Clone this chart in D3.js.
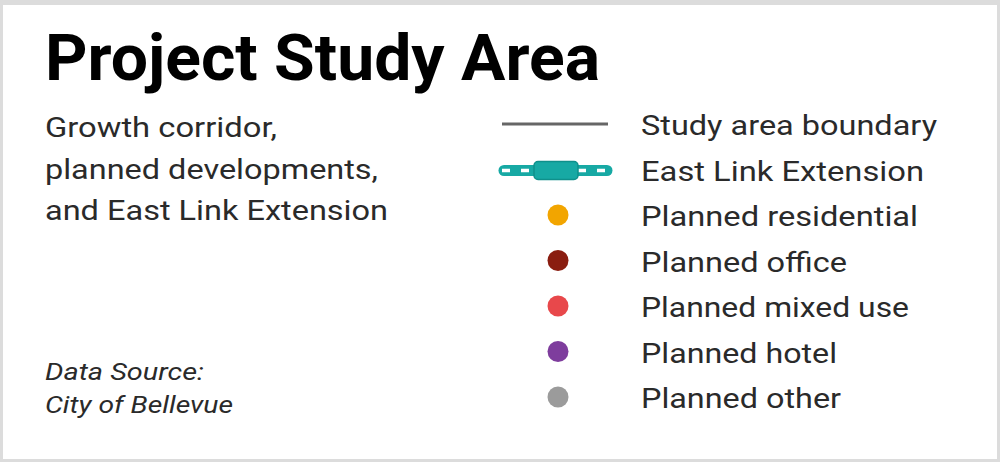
<!DOCTYPE html>
<html>
<head>
<meta charset="utf-8">
<script src="https://cdn.jsdelivr.net/npm/d3@7"></script>
<style>
  html, body { margin: 0; padding: 0; background: #fff; }
  svg { display: block; }
  text { font-family: Roboto, "Noto Sans", sans-serif; fill: #1a1a1a; }
</style>
</head>
<body>
<div id="chart"></div>
<script>
// legend content
var title = "Project Study Area";
var subtitleLines = ["Growth corridor,", "planned developments,", "and East Link Extension"];
var sourceLines = ["Data Source:", "City of Bellevue"];
var legendLabels = ["Study area boundary", "East Link Extension", "Planned residential",
  "Planned office", "Planned mixed use", "Planned hotel", "Planned other"];
var legendTypes = ["line", "rail", "dot", "dot", "dot", "dot", "dot"];
var legendColors = ["#666666", "#17a9a4", "#f2a500", "#8a1d10", "#e8484b", "#7e3d9d", "#9b9b9b"];

var W = 1000, H = 462;
var svg = d3.select("#chart").append("svg").attr("width", W).attr("height", H);

// frame
svg.append("rect").attr("x", 0).attr("y", 0).attr("width", W).attr("height", H).attr("fill", "#dcdcdc");
svg.append("rect").attr("x", 3).attr("y", 5).attr("width", W - 6).attr("height", H - 8).attr("fill", "#fff");

// squeeze text to a width so the narrow original face is matched
function fit(sel, w) {
  sel.attr("textLength", w).attr("lengthAdjust", "spacingAndGlyphs");
}

svg.append("text").attr("x", 45).attr("y", 80)
  .style("font-size", "64px").style("font-weight", 700).style("fill", "#000")
  .text(title).call(fit, 555);

var subW = [232, 333, 343];
svg.selectAll("text.sub").data(subtitleLines).enter().append("text")
  .attr("class", "sub").attr("x", 45).attr("y", function(d, i) { return 137 + i * 41.5; })
  .style("font-size", "27px").style("fill", "#2a2a2a")
  .text(function(d) { return d; })
  .each(function(d, i) { d3.select(this).call(fit, subW[i]); });

var srcW = [159, 188];
svg.selectAll("text.src").data(sourceLines).enter().append("text")
  .attr("class", "src").attr("x", 45).attr("y", function(d, i) { return 380 + i * 33; })
  .style("font-size", "23px").style("font-style", "italic").style("fill", "#2a2a2a")
  .text(function(d) { return d; })
  .each(function(d, i) { d3.select(this).call(fit, srcW[i]); });

// legend rows
var y = d3.scalePoint().domain(legendLabels).range([124, 397]);
var symX = 556;

var rows = svg.selectAll("g.row").data(legendLabels).enter().append("g")
  .attr("class", "row")
  .attr("transform", function(d) { return "translate(0," + y(d) + ")"; });

rows.each(function(d, i) {
  var g = d3.select(this), c = legendColors[i];
  if (legendTypes[i] === "line") {
    g.append("line").attr("x1", 502).attr("x2", 608).attr("y1", 0).attr("y2", 0)
      .attr("stroke", c).attr("stroke-width", 3);
  } else if (legendTypes[i] === "rail") {
    g.append("line").attr("x1", 504).attr("x2", 607).attr("y1", 1).attr("y2", 1)
      .attr("stroke", c).attr("stroke-width", 11).attr("stroke-linecap", "round");
    g.append("line").attr("x1", 502).attr("x2", 609).attr("y1", 1).attr("y2", 1)
      .attr("stroke", "#fff").attr("stroke-width", 3.5)
      .attr("stroke-dasharray", "8 11");
    g.append("rect").attr("x", 534).attr("y", -8).attr("width", 44).attr("height", 18)
      .attr("rx", 4).attr("fill", c).attr("stroke", "#0f908b").attr("stroke-width", 1.5);
  } else {
    g.append("circle").attr("cx", symX + 2).attr("cy", 0).attr("r", 10.5).attr("fill", c);
  }
});

var labW = [296, 283, 277, 206, 268, 196, 200];
rows.append("text").attr("x", 641).attr("y", 0).attr("dy", "0.42em")
  .style("font-size", "27px").style("fill", "#2a2a2a")
  .text(function(d) { return d; })
  .each(function(d, i) { d3.select(this).call(fit, labW[i]); });
</script>
</body>
</html>
